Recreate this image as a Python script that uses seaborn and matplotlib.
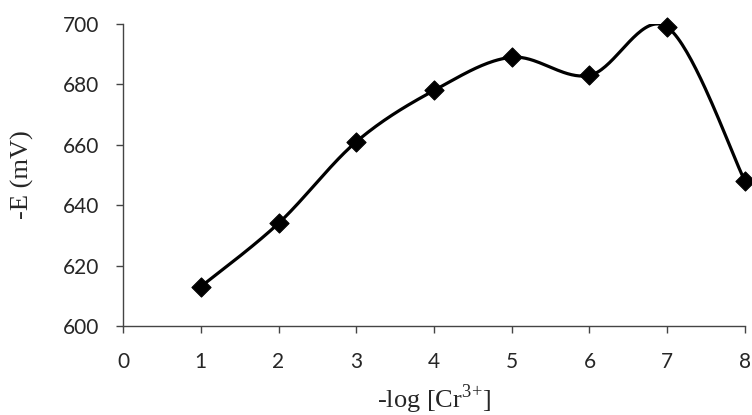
import numpy as np
import pandas as pd
import seaborn as sns
import matplotlib
matplotlib.use("Agg")
import matplotlib.pyplot as plt

# values
log_cr = [1, 2, 3, 4, 5, 6, 7, 8]
minus_e = [613, 634, 661, 678, 689, 683, 699, 648]


def smooth_curve(x, y, n=40):
    """Excel-like smoothed line (Catmull-Rom through the points)."""
    x = np.asarray(x, float)
    y = np.asarray(y, float)
    px = np.concatenate([[x[0]], x, [x[-1]]])
    py = np.concatenate([[y[0]], y, [y[-1]]])
    xs, ys = [], []
    t = np.linspace(0, 1, n)
    for i in range(1, len(px) - 2):
        p0x, p1x, p2x, p3x = px[i - 1], px[i], px[i + 1], px[i + 2]
        p0y, p1y, p2y, p3y = py[i - 1], py[i], py[i + 1], py[i + 2]
        c1x, c1y = p1x + (p2x - p0x) / 6, p1y + (p2y - p0y) / 6
        c2x, c2y = p2x - (p3x - p1x) / 6, p2y - (p3y - p1y) / 6
        bx = (1 - t) ** 3 * p1x + 3 * (1 - t) ** 2 * t * c1x + 3 * (1 - t) * t ** 2 * c2x + t ** 3 * p2x
        by = (1 - t) ** 3 * p1y + 3 * (1 - t) ** 2 * t * c1y + 3 * (1 - t) * t ** 2 * c2y + t ** 3 * p2y
        xs.extend(bx)
        ys.extend(by)
    return np.array(xs), np.array(ys)


sns.set_style("ticks")
plt.rcParams['font.family'] = ['Lato', 'DejaVu Sans']
plt.rcParams['mathtext.fontset'] = 'custom'
plt.rcParams['mathtext.rm'] = 'Liberation Serif'

df = pd.DataFrame({'x': log_cr, 'y': minus_e})
sx, sy = smooth_curve(log_cr, minus_e)
df_smooth = pd.DataFrame({'x': sx, 'y': sy})

fig = plt.figure(figsize=(7.52, 4.15), dpi=100)
ax = fig.add_axes([0.1636, 0.2145, 0.827, 0.7275])

sns.lineplot(data=df_smooth, x='x', y='y', sort=False, color='black', linewidth=2.3, ax=ax)
sns.scatterplot(data=df, x='x', y='y', marker='D', s=95, color='black', edgecolor='black',
                zorder=5, ax=ax, clip_on=False)

ax.set_xlim(0, 8)
ax.set_ylim(600, 700)
ax.set_xticks(range(0, 9))
ax.set_yticks(range(600, 701, 20))
ax.tick_params(labelsize=15, length=5, width=1, color='#444444')
ax.tick_params(axis='x', pad=14)
ax.tick_params(axis='y', pad=12)

ax.set_xlabel(r'-log [Cr$^{3}$$^{+}$]', family='Liberation Serif', fontsize=19, labelpad=7)
ax.set_ylabel('-E (mV)', family='Liberation Serif', fontsize=19, labelpad=21)

sns.despine(ax=ax)
for s in ['left', 'bottom']:
    ax.spines[s].set_color('#444444')
    ax.spines[s].set_linewidth(1)

fig.savefig('out.png', dpi=100)
